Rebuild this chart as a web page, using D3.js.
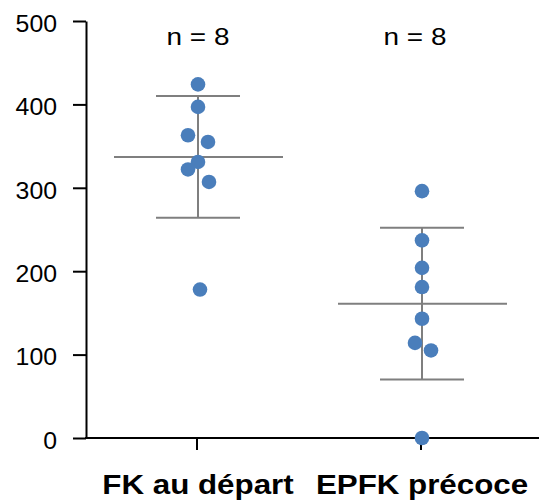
<!DOCTYPE html>
<html>
<head>
<meta charset="utf-8">
<script src="https://cdn.jsdelivr.net/npm/d3@7"></script>
<style>
  body { margin: 0; background: #fff; }
  text { font-family: "Liberation Sans", Arial, sans-serif; fill: #000; }
</style>
</head>
<body>
<script>
// values
var categories = ["FK au départ", "EPFK précoce"];
var fkValues = [424, 397, 363, 355, 331, 322, 307, 178];
var epfkValues = [296, 237, 204, 181, 143, 114, 105, 0];
var means = [337, 161];
var sds = [73, 91];
var counts = [8, 8];
var yTicks = [0, 100, 200, 300, 400, 500];

// small sideways shift of the dots so they don't sit on top of each other
var jitter = [[0, 0, -10, 10, 0, -10, 11, 2], [0, 0, 0, 0, 0, -7, 9, 0]];

var width = 539, height = 500;
var svg = d3.select("body").append("svg")
    .attr("width", width)
    .attr("height", height);

var y = d3.scaleLinear().domain([0, 500]).range([438, 21]);
var x = d3.scaleBand().domain(categories).range([86, 534]);

var blue = "#4a7ebb", grey = "#7f7f7f";

// y axis
var yAxis = svg.append("g")
    .attr("transform", "translate(86,0)")
    .call(d3.axisLeft(y).tickValues(yTicks).tickSize(13).tickSizeOuter(0));
yAxis.select(".domain").attr("stroke", "#000").attr("stroke-width", 2);
yAxis.selectAll(".tick line").attr("stroke", "#000").attr("stroke-width", 2);
yAxis.selectAll(".tick text")
    .attr("font-size", 23)
    .attr("font-family", "Liberation Sans, Arial, sans-serif")
    .attr("x", 0)
    .attr("dy", "0.36em")
    .attr("transform", "translate(-29,2) scale(1.08,1)");

// x axis line, runs to the right edge
svg.append("line")
    .attr("x1", 85).attr("x2", width)
    .attr("y1", y(0)).attr("y2", y(0))
    .attr("stroke", "#000").attr("stroke-width", 2);

svg.selectAll(".xtick")
  .data(categories)
  .enter().append("line")
    .attr("x1", function(d) { return x(d) + x.bandwidth() / 2 - 1; })
    .attr("x2", function(d) { return x(d) + x.bandwidth() / 2 - 1; })
    .attr("y1", y(0)).attr("y2", y(0) + 12)
    .attr("stroke", "#000").attr("stroke-width", 2);

svg.selectAll(".xlabel")
  .data(categories)
  .enter().append("text")
    .attr("transform", function(d) {
      return "translate(" + (x(d) + x.bandwidth() / 2) + ",494) scale(1.16,1)";
    })
    .attr("text-anchor", "middle")
    .attr("font-size", 27)
    .attr("font-weight", "bold")
    .text(function(d) { return d; });

// mean and sd lines
var groups = categories.map(function(c, i) {
  return { cat: c, mean: means[i], sd: sds[i], n: counts[i],
           values: i === 0 ? fkValues : epfkValues, jit: jitter[i] };
});

var g = svg.selectAll(".grp")
  .data(groups)
  .enter().append("g")
    .attr("transform", function(d) { return "translate(" + (x(d.cat) + x.bandwidth() / 2) + ",0)"; });

g.append("line")
    .attr("x1", 0).attr("x2", 0)
    .attr("y1", function(d) { return y(d.mean + d.sd); })
    .attr("y2", function(d) { return y(d.mean - d.sd); })
    .attr("stroke", grey).attr("stroke-width", 2);
g.append("line")
    .attr("x1", -42).attr("x2", 42)
    .attr("y1", function(d) { return y(d.mean + d.sd); })
    .attr("y2", function(d) { return y(d.mean + d.sd); })
    .attr("stroke", grey).attr("stroke-width", 2);
g.append("line")
    .attr("x1", -42).attr("x2", 42)
    .attr("y1", function(d) { return y(d.mean - d.sd); })
    .attr("y2", function(d) { return y(d.mean - d.sd); })
    .attr("stroke", grey).attr("stroke-width", 2);
g.append("line")
    .attr("x1", -84).attr("x2", 85)
    .attr("y1", function(d) { return y(d.mean); })
    .attr("y2", function(d) { return y(d.mean); })
    .attr("stroke", grey).attr("stroke-width", 2);

// dots
g.selectAll("circle")
  .data(function(d) { return d.values.map(function(v, j) { return { v: v, dx: d.jit[j] }; }); })
  .enter().append("circle")
    .attr("cx", function(d) { return d.dx; })
    .attr("cy", function(d) { return y(d.v); })
    .attr("r", 7.3)
    .attr("fill", blue);

// n labels
var nShift = [0, -7];
g.append("text")
    .attr("transform", function(d, i) { return "translate(" + nShift[i] + ",45) scale(1.14,1)"; })
    .attr("text-anchor", "middle")
    .attr("font-size", 24.5)
    .text(function(d) { return "n = " + d.n; });
</script>
</body>
</html>
